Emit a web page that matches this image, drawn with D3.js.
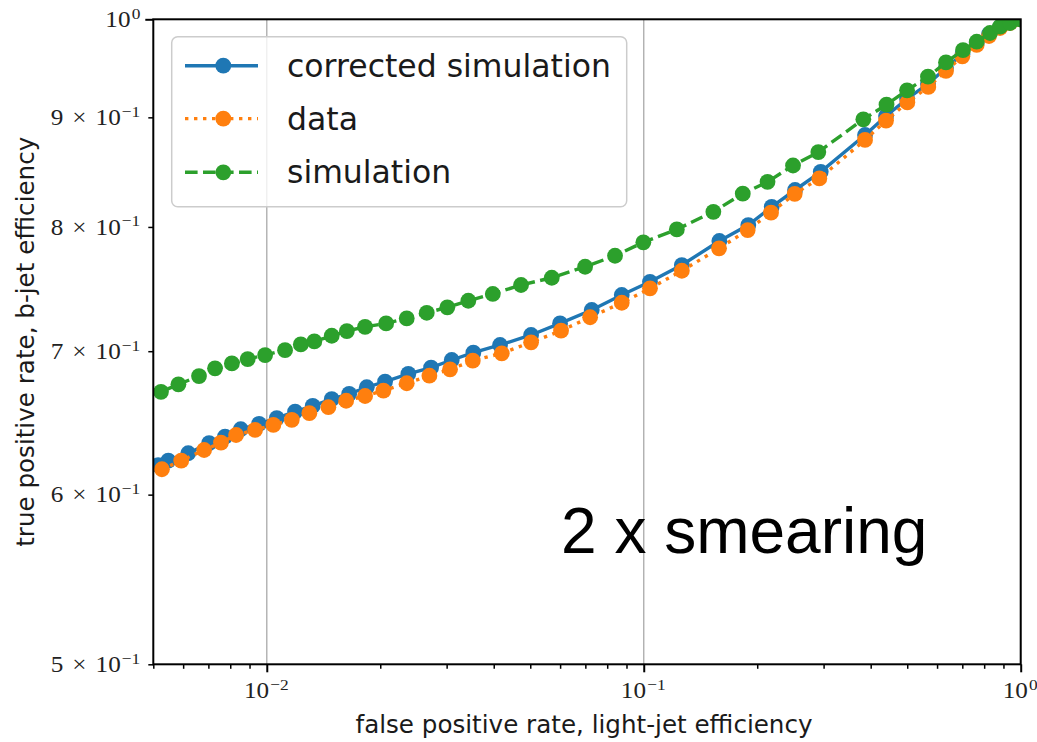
<!DOCTYPE html>
<html>
<head>
<meta charset="utf-8">
<script src="https://cdn.jsdelivr.net/npm/d3@7"></script>
<style>
  html, body { margin: 0; padding: 0; background: #fff; }
  svg { display: block; }
</style>
</head>
<body>
<svg id="chart" width="1037" height="742"></svg>
<script>
// ROC curves: b-jet efficiency vs light-jet efficiency (log-log)
const seriesNames = ["corrected simulation", "data", "simulation"];
const seriesColors = ["#1f77b4", "#ff7f0e", "#2ca02c"];
const seriesDash = [null, "3.4,5.6", "12.6,5.4"];

const fprCorrected = [0.00515, 0.00548, 0.00619, 0.00703, 0.00775, 0.00853, 0.00954, 0.01063, 0.01189, 0.01324,
  0.01487, 0.01654, 0.01842, 0.02060, 0.02374, 0.02728, 0.03095, 0.03532, 0.04157, 0.05025,
  0.05998, 0.07278, 0.08743, 0.1039, 0.1262, 0.1587, 0.1894, 0.2185, 0.2520, 0.2948,
  0.3864, 0.4393, 0.4995, 0.5676, 0.6336, 0.7009, 0.7643, 0.8240, 0.8813, 0.9368, 1.0];
const tprCorrected = [0.6194, 0.6223, 0.6273, 0.6341, 0.6386, 0.6437, 0.6474, 0.6514, 0.6560, 0.6600,
  0.6648, 0.6686, 0.6734, 0.6775, 0.6831, 0.6877, 0.6934, 0.6989, 0.7047, 0.7123,
  0.7212, 0.7317, 0.7436, 0.7542, 0.7679, 0.7880, 0.8016, 0.8175, 0.8324, 0.8488,
  0.8831, 0.9013, 0.9180, 0.9329, 0.9490, 0.9634, 0.9749, 0.9843, 0.9918, 0.9971, 1.0];

const fprData = [0.00527, 0.00593, 0.00682, 0.00756, 0.00829, 0.00931, 0.01041, 0.01165, 0.01297, 0.01457,
  0.01624, 0.01823, 0.02039, 0.02351, 0.02700, 0.03063, 0.03519, 0.04201, 0.05025, 0.06034,
  0.07207, 0.08743, 0.1039, 0.1262, 0.1584, 0.1887, 0.2176, 0.2515, 0.2923, 0.3864,
  0.4393, 0.5004, 0.5686, 0.6336, 0.7001, 0.7643, 0.8240, 0.8813, 0.9368, 1.0];
const tprData = [0.6166, 0.6223, 0.6295, 0.6345, 0.6397, 0.6432, 0.6467, 0.6502, 0.6549, 0.6591,
  0.6637, 0.6671, 0.6710, 0.6763, 0.6818, 0.6865, 0.6929, 0.6984, 0.7067, 0.7156,
  0.7260, 0.7374, 0.7489, 0.7632, 0.7818, 0.7973, 0.8124, 0.8290, 0.8428, 0.8784,
  0.8969, 0.9145, 0.9299, 0.9460, 0.9610, 0.9728, 0.9822, 0.9907, 0.9960, 1.0];

const fprSim = [0.00524, 0.00583, 0.00661, 0.00729, 0.00808, 0.00890, 0.00990, 0.01118, 0.01231, 0.01337,
  0.01487, 0.01631, 0.01823, 0.02073, 0.02351, 0.02657, 0.03013, 0.03425, 0.03977, 0.04726,
  0.05702, 0.06990, 0.08391, 0.09976, 0.1224, 0.1530, 0.1831, 0.2130, 0.2489, 0.2905,
  0.3824, 0.4406, 0.4995, 0.5676, 0.6336, 0.7030, 0.7643, 0.8291, 0.8813, 0.9368, 1.0];
const tprSim = [0.6701, 0.6755, 0.6815, 0.6872, 0.6909, 0.6941, 0.6971, 0.7008, 0.7051, 0.7074,
  0.7117, 0.7153, 0.7186, 0.7212, 0.7251, 0.7295, 0.7338, 0.7390, 0.7444, 0.7516,
  0.7575, 0.7665, 0.7756, 0.7869, 0.7979, 0.8131, 0.8291, 0.8397, 0.8546, 0.8670,
  0.8981, 0.9124, 0.9265, 0.9402, 0.9547, 0.9675, 0.9762, 0.9854, 0.9921, 0.9960, 1.0];

// axis ticks and their labels
const xMajorTicks = [0.01, 0.1, 1];
const xMajorExponents = ["\u22122", "\u22121", "0"];
const yTickValues = [0.5, 0.6, 0.7, 0.8, 0.9, 1.0];
const yTickMantissas = ["5", "6", "7", "8", "9", null];
const yTickExponents = ["\u22121", "\u22121", "\u22121", "\u22121", "\u22121", "0"];

const xLabel = "false positive rate, light-jet efficiency";
const yLabel = "true positive rate, b-jet efficiency";
const annotation = "2 x smearing";

// layout
const plot = { left: 153.3, right: 1020.7, top: 19.3, bottom: 664.3 };
const LW = 3.4, R = 7.9;
const sansFont = "'DejaVu Sans', sans-serif";
const mathFont = "'Liberation Serif', 'DejaVu Serif', serif";
const mathSize = 22.5, supSize = 15.5, mathStretch = 1.12;

const svg = d3.select("#chart");

const x = d3.scaleLog().domain([0.005, 1]).range([plot.left, plot.right]);
const y = d3.scaleLog().domain([0.5, 1]).range([plot.bottom, plot.top]);

svg.append("defs").append("clipPath").attr("id", "plotClip")
  .append("rect")
  .attr("x", plot.left).attr("y", plot.top)
  .attr("width", plot.right - plot.left).attr("height", plot.bottom - plot.top);

// vertical grid at major x ticks
svg.append("g")
  .selectAll("line")
  .data(xMajorTicks)
  .join("line")
  .attr("x1", d => x(d)).attr("x2", d => x(d))
  .attr("y1", plot.top).attr("y2", plot.bottom)
  .attr("stroke", "#b0b0b0").attr("stroke-width", 1.4);

// series
const series = [
  { fpr: fprCorrected, tpr: tprCorrected },
  { fpr: fprData, tpr: tprData },
  { fpr: fprSim, tpr: tprSim }
];

const lineGen = d3.line().x(d => x(d[0])).y(d => y(d[1]));
const gData = svg.append("g").attr("clip-path", "url(#plotClip)");

series.forEach((s, i) => {
  const pts = s.fpr.map((f, k) => [f, s.tpr[k]]);
  const g = gData.append("g");
  g.append("path")
    .datum(pts)
    .attr("d", lineGen)
    .attr("fill", "none")
    .attr("stroke", seriesColors[i])
    .attr("stroke-width", LW)
    .attr("stroke-dasharray", seriesDash[i]);
  g.selectAll("circle")
    .data(pts)
    .join("circle")
    .attr("cx", d => x(d[0]))
    .attr("cy", d => y(d[1]))
    .attr("r", R)
    .attr("fill", seriesColors[i]);
});

// x axis: minor and major ticks
const xMinor = x.ticks().filter(v => !xMajorTicks.some(m => Math.abs(m - v) < 1e-12));
svg.append("g")
  .attr("transform", `translate(0,${plot.bottom})`)
  .call(d3.axisBottom(x).tickValues(xMinor).tickSize(4.5).tickFormat(""))
  .call(g => g.select(".domain").remove())
  .call(g => g.selectAll(".tick line").attr("stroke", "#000").attr("stroke-width", 1.5));

const xMajorAxis = svg.append("g")
  .attr("transform", `translate(0,${plot.bottom})`)
  .call(d3.axisBottom(x).tickValues(xMajorTicks).tickSize(8).tickFormat(""))
  .call(g => g.select(".domain").remove())
  .call(g => g.selectAll(".tick line").attr("stroke", "#000").attr("stroke-width", 2));

xMajorAxis.selectAll(".tick").each(function(d, i) {
  const t = d3.select(this).append("g")
    .attr("transform", `translate(-1,34) scale(${mathStretch},1)`)
    .append("text")
    .attr("text-anchor", "middle")
    .attr("fill", "#222")
    .attr("font-family", mathFont)
    .attr("font-size", mathSize);
  t.append("tspan").text("10");
  t.append("tspan").attr("dx", 1).attr("dy", -8.5).attr("font-size", supSize).text(xMajorExponents[i]);
});

// y axis: labelled minor ticks, major tick at 10^0
const yAxis = svg.append("g")
  .attr("transform", `translate(${plot.left},0)`)
  .call(d3.axisLeft(y).tickValues(yTickValues).tickSize(5).tickFormat(""))
  .call(g => g.select(".domain").remove())
  .call(g => g.selectAll(".tick line")
    .attr("stroke", "#000")
    .attr("stroke-width", (d, i) => yTickMantissas[i] === null ? 2 : 1.5)
    .attr("x2", (d, i) => yTickMantissas[i] === null ? -8 : -5));

yAxis.selectAll(".tick").each(function(d, i) {
  const t = d3.select(this).append("g")
    .attr("transform", `translate(-13,7.3) scale(${mathStretch},1)`)
    .append("text")
    .attr("text-anchor", "end")
    .attr("fill", "#222")
    .attr("font-family", mathFont)
    .attr("font-size", mathSize);
  if (yTickMantissas[i] !== null) {
    t.append("tspan").text(yTickMantissas[i]);
    t.append("tspan").attr("dx", 8).text("\u00d7");
    t.append("tspan").attr("dx", 8).text("10");
  } else {
    t.append("tspan").text("10");
  }
  t.append("tspan").attr("dx", 1).attr("dy", -8.5).attr("font-size", supSize).text(yTickExponents[i]);
});

// axes frame
svg.append("rect")
  .attr("x", plot.left).attr("y", plot.top)
  .attr("width", plot.right - plot.left).attr("height", plot.bottom - plot.top)
  .attr("fill", "none").attr("stroke", "#000").attr("stroke-width", 2);

// axis titles
svg.append("text")
  .attr("x", (plot.left + plot.right) / 2 - 3)
  .attr("y", 733)
  .attr("text-anchor", "middle")
  .attr("font-family", sansFont)
  .attr("font-size", 24.6)
  .attr("fill", "#1a1a1a")
  .text(xLabel);

svg.append("text")
  .attr("transform", `translate(34,${(plot.top + plot.bottom) / 2}) rotate(-90)`)
  .attr("text-anchor", "middle")
  .attr("font-family", sansFont)
  .attr("font-size", 24.6)
  .attr("fill", "#1a1a1a")
  .text(yLabel);

// legend
const legend = svg.append("g");
legend.append("rect")
  .attr("x", 171.7).attr("y", 36.7)
  .attr("width", 455).attr("height", 170)
  .attr("rx", 6).attr("ry", 6)
  .attr("fill", "#fff").attr("fill-opacity", 0.8)
  .attr("stroke", "#cccccc").attr("stroke-width", 1.5);

const legendRows = [65.7, 118.6, 172.3];
seriesNames.forEach((name, i) => {
  const row = legend.append("g").attr("transform", `translate(0,${legendRows[i]})`);
  row.append("line")
    .attr("x1", 185).attr("x2", 258)
    .attr("stroke", seriesColors[i]).attr("stroke-width", LW)
    .attr("stroke-dasharray", seriesDash[i]);
  row.append("circle").attr("cx", 223.3).attr("cy", 0).attr("r", R).attr("fill", seriesColors[i]);
  row.append("text")
    .attr("x", 287).attr("y", 11)
    .attr("font-family", sansFont)
    .attr("font-size", 31.5)
    .attr("fill", "#1a1a1a")
    .text(name);
});

// annotation
svg.append("text")
  .attr("x", 561).attr("y", 553)
  .attr("font-family", "'Liberation Sans', Arial, sans-serif")
  .attr("font-size", 64)
  .attr("fill", "#000")
  .text(annotation);
</script>
</body>
</html>
